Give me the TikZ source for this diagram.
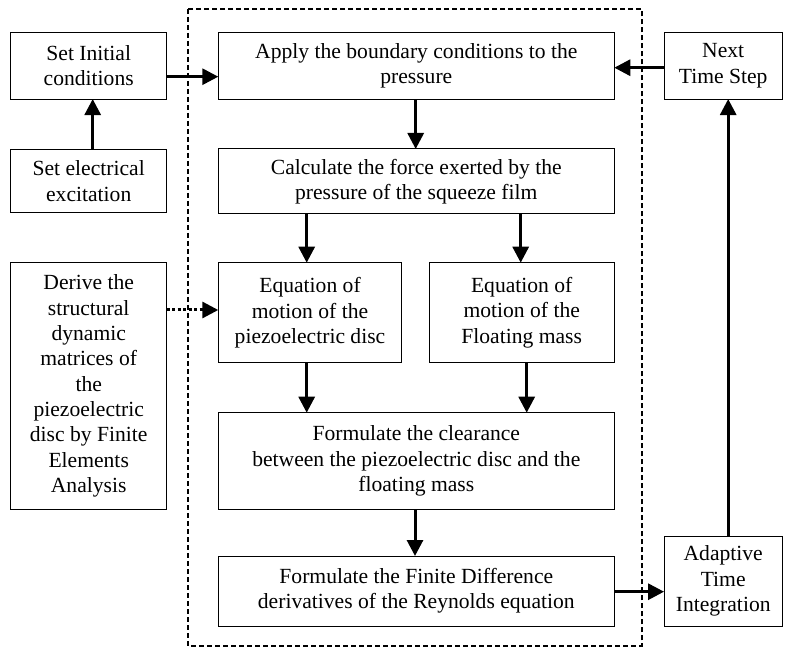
\documentclass[tikz,border=0pt]{standalone}
\usepackage{fontspec}
\setmainfont{Liberation Serif}
\usetikzlibrary{arrows.meta}
\begin{document}
\begin{tikzpicture}[x=1pt,y=-1pt,
  box/.style={draw,line width=1pt,inner sep=0pt,outer sep=0pt,align=center,
    font=\fontsize{21.6}{25.3}\selectfont},
  arr/.style={line width=3pt,-{Triangle[length=16pt,width=16pt]}},
  dotarr/.style={line width=3pt,dash pattern=on 3pt off 2.5pt,-{Triangle[length=16pt,width=16pt]}},
  frame/.style={line width=1.8pt,dash pattern=on 5pt off 3pt}]
\useasboundingbox (0,0) rectangle (785,647);
\draw[frame] (188.3,9) rectangle (641.7,646);
\node[box,minimum width=156pt,minimum height=66.7pt] (init) at (88.7,65.7) {Set Initial\\conditions};
\node[box,minimum width=156pt,minimum height=63.4pt] (exc) at (88.7,181) {Set electrical\\excitation};
\node[box,minimum width=156pt,minimum height=246.6pt] (derive) at (88.7,386) {Derive the\\structural\\dynamic\\matrices of\\the\\piezoelectric\\disc by Finite\\Elements\\Analysis};
\node[box,minimum width=396pt,minimum height=66.7pt] (apply) at (416.3,65.7) {Apply the boundary conditions to the\\pressure};
\node[box,minimum width=396pt,minimum height=65pt] (calc) at (416.3,181.5) {Calculate the force exerted by the\\pressure of the squeeze film};
\node[box,minimum width=183.4pt,minimum height=100pt] (piezo) at (310,312.7) {Equation of\\motion of the\\piezoelectric disc};
\node[box,minimum width=185.3pt,minimum height=100pt] (float) at (521.7,312.7) {Equation of\\motion of the\\Floating mass};
\node[box,minimum width=396pt,minimum height=96.6pt] (clear) at (416.3,461) {Formulate the clearance\\between the piezoelectric disc and the\\floating mass};
\node[box,minimum width=396pt,minimum height=70pt] (fd) at (416.3,591) {Formulate the Finite Difference\\derivatives of the Reynolds equation};
\node[box,minimum width=118.3pt,minimum height=66.7pt] (next) at (723.2,65.7) {Next\\Time Step};
\node[box,minimum width=118.3pt,minimum height=90pt] (adapt) at (723.2,581) {Adaptive\\Time\\Integration};
\coordinate (pin) at ([xshift=-3.3pt]piezo.north);
\coordinate (pout) at ([xshift=-3.3pt]piezo.south);
\coordinate (fin) at ([xshift=-1pt]float.north);
\coordinate (fout) at ([xshift=5pt]float.south);
\coordinate (fde) at ([yshift=-0.7pt]fd.east);
\coordinate (pw) at ([yshift=2.7pt]piezo.west);
\draw[arr] ([yshift=-11pt]init.east) -- ([yshift=-11pt]apply.west);
\draw[arr] ([xshift=4pt]exc.north) -- ([xshift=4pt]init.south);
\draw[arr] ([yshift=-2pt]next.west) -- ([yshift=-2pt]apply.east);
\draw[arr] ([xshift=-0.6pt]apply.south) -- ([xshift=-0.6pt]calc.north);
\draw[arr] (calc.south -| pin) -- (pin);
\draw[arr] (calc.south -| fin) -- (fin);
\draw[arr] (pout) -- (clear.north -| pout);
\draw[arr] (fout) -- (clear.north -| fout);
\draw[arr] ([xshift=-1.3pt]clear.south) -- ([xshift=-1.3pt]fd.north);
\draw[arr] (fde) -- (adapt.west |- fde);
\draw[arr] ([xshift=5pt]adapt.north) -- ([xshift=5pt]next.south);
\draw[dotarr] (derive.east |- pw) -- (pw);
\end{tikzpicture}
\end{document}
